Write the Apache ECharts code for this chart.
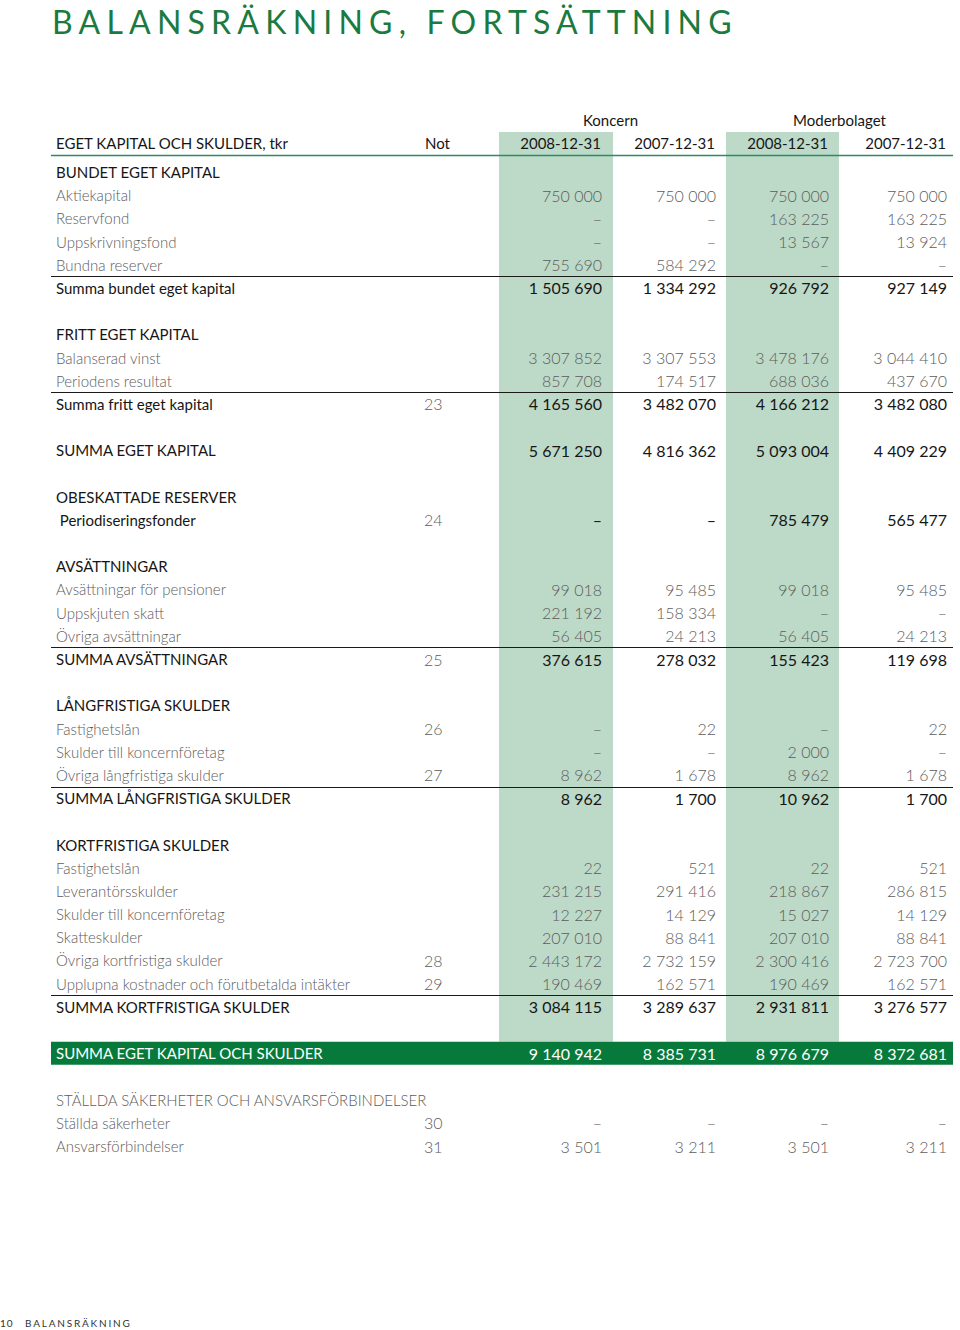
<!DOCTYPE html>
<html><head><meta charset="utf-8">
<script src="https://cdn.jsdelivr.net/npm/echarts@6/dist/echarts.min.js"></script>
<style>html,body{margin:0;padding:0;background:#fff}#c{width:960px;height:1330px}</style>
</head><body><div id="c"></div>
<script>
// ---------- DATA ----------
const pageTitle = 'BALANSRÄKNING, FORTSÄTTNING';
const footerPage = '10';
const footerText = 'BALANSRÄKNING';
const tableHeading = 'EGET KAPITAL OCH SKULDER, tkr';
const noteHeading = 'Not';
const groupHeadings = ['Koncern', 'Moderbolaget'];
const dateHeadings = ['2008-12-31', '2007-12-31', '2008-12-31', '2007-12-31'];

const rowLabels = [
  'BUNDET EGET KAPITAL', 'Aktiekapital', 'Reservfond', 'Uppskrivningsfond', 'Bundna reserver',
  'Summa bundet eget kapital', '',
  'FRITT EGET KAPITAL', 'Balanserad vinst', 'Periodens resultat', 'Summa fritt eget kapital', '',
  'SUMMA EGET KAPITAL', '',
  'OBESKATTADE RESERVER', ' Periodiseringsfonder', '',
  'AVSÄTTNINGAR', 'Avsättningar för pensioner', 'Uppskjuten skatt', 'Övriga avsättningar',
  'SUMMA AVSÄTTNINGAR', '',
  'LÅNGFRISTIGA SKULDER', 'Fastighetslån', 'Skulder till koncernföretag', 'Övriga långfristiga skulder',
  'SUMMA LÅNGFRISTIGA SKULDER', '',
  'KORTFRISTIGA SKULDER', 'Fastighetslån', 'Leverantörsskulder', 'Skulder till koncernföretag',
  'Skatteskulder', 'Övriga kortfristiga skulder', 'Upplupna kostnader och förutbetalda intäkter',
  'SUMMA KORTFRISTIGA SKULDER', '',
  'SUMMA EGET KAPITAL OCH SKULDER', '',
  'STÄLLDA SÄKERHETER OCH ANSVARSFÖRBINDELSER', 'Ställda säkerheter', 'Ansvarsförbindelser'
];
// row kinds: section, item, sum (ruled), plain (dark, no rule), total, blank, gsection
const rowKinds = [
  'section', 'item', 'item', 'item', 'item', 'sum', 'blank',
  'section', 'item', 'item', 'sum', 'blank',
  'plain', 'blank',
  'section', 'plain', 'blank',
  'section', 'item', 'item', 'item', 'sum', 'blank',
  'section', 'item', 'item', 'item', 'sum', 'blank',
  'section', 'item', 'item', 'item', 'item', 'item', 'item', 'sum', 'blank',
  'total', 'blank',
  'gsection', 'item', 'item'
];
const notes = [
  '', '', '', '', '', '', '',
  '', '', '', '23', '',
  '', '',
  '', '24', '',
  '', '', '', '', '25', '',
  '', '26', '', '27', '', '',
  '', '', '', '', '', '28', '29', '', '',
  '', '',
  '', '30', '31'
];
// null = "–"
const koncern2008 = [
  null, 750000, null, null, 755690, 1505690, null,
  null, 3307852, 857708, 4165560, null,
  5671250, null,
  null, null, null,
  null, 99018, 221192, 56405, 376615, null,
  null, null, null, 8962, 8962, null,
  null, 22, 231215, 12227, 207010, 2443172, 190469, 3084115, null,
  9140942, null,
  null, null, 3501
];
const koncern2007 = [
  null, 750000, null, null, 584292, 1334292, null,
  null, 3307553, 174517, 3482070, null,
  4816362, null,
  null, null, null,
  null, 95485, 158334, 24213, 278032, null,
  null, 22, null, 1678, 1700, null,
  null, 521, 291416, 14129, 88841, 2732159, 162571, 3289637, null,
  8385731, null,
  null, null, 3211
];
const moder2008 = [
  null, 750000, 163225, 13567, null, 926792, null,
  null, 3478176, 688036, 4166212, null,
  5093004, null,
  null, 785479, null,
  null, 99018, null, 56405, 155423, null,
  null, null, 2000, 8962, 10962, null,
  null, 22, 218867, 15027, 207010, 2300416, 190469, 2931811, null,
  8976679, null,
  null, null, 3501
];
const moder2007 = [
  null, 750000, 163225, 13924, null, 927149, null,
  null, 3044410, 437670, 3482080, null,
  4409229, null,
  null, 565477, null,
  null, 95485, null, 24213, 119698, null,
  null, 22, null, 1678, 1700, null,
  null, 521, 286815, 14129, 88841, 2723700, 162571, 3276577, null,
  8372681, null,
  null, null, 3211
];
const valueColumns = [koncern2008, koncern2007, moder2008, moder2007];

// ---------- LAYOUT / STYLE ----------
const L = {
  ruleL: 51, ruleR: 953, labelX: 56, noteX: 424,
  valueRight: [602, 716, 829, 947],
  shade: [[499, 613], [726, 839]],
  shadeAbove: 28.4,
  gridTop: 160.4, gridHeight: 997.2
};
const C = {
  green: '#1b7a40', total: '#077a3b', shade: '#bdd9c7', headRule: '#2f8a5f',
  dark: '#161616', gray: '#5c5c5c'
};
const FONT = 'Lato';
const KS = {
  item:     {lc: C.gray, lw: 300, vc: C.gray, vw: 300},
  gsection: {lc: C.gray, lw: 300, vc: C.gray, vw: 300},
  section:  {lc: C.dark, lw: 400, vc: C.dark, vw: 400},
  sum:      {lc: C.dark, lw: 400, vc: C.dark, vw: 400},
  plain:    {lc: C.dark, lw: 400, vc: C.dark, vw: 400},
  total:    {lc: '#ffffff', lw: 400, vc: '#ffffff', vw: 400}
};
const showValues = {item: true, sum: true, plain: true, total: true};

function fmt(v) {
  if (v === null || v === undefined) return '–';
  return String(v).replace(/\B(?=(\d{3})+(?!\d))/g, ' ');
}

function txt(x, y, text, o) {
  return {
    type: 'text', x: x, y: y,
    style: {
      text: text, fill: o.fill, fontFamily: FONT, fontSize: o.size, fontWeight: o.weight,
      align: o.align || 'left', verticalAlign: 'middle'
    }
  };
}

function renderRow(params, api) {
  const i = api.value(1);
  const kind = rowKinds[i];
  const yc = api.coord([0, i])[1];
  const band = api.size([0, 1])[1];
  const top = yc - band / 2;
  const X = v => api.coord([v, i])[0];
  const children = [];
  if (kind === 'blank') return {type: 'group', children: children};
  const s = KS[kind];
  if (kind === 'total') {
    children.push({type: 'rect', shape: {x: X(L.ruleL), y: top, width: X(L.ruleR) - X(L.ruleL), height: band},
      style: {fill: C.total}});
  }
  if (kind === 'sum') {
    const ly = Math.round(top) + 0.5;
    children.push({type: 'line', shape: {x1: X(L.ruleL), y1: ly, x2: X(L.ruleR), y2: ly},
      style: {stroke: '#1a1a1a', lineWidth: 1}});
  }
  children.push(txt(X(L.labelX), yc, rowLabels[i], {fill: s.lc, size: 15, weight: s.lw}));
  if (notes[i]) children.push(txt(X(L.noteX), yc, notes[i], {fill: C.gray, size: 16, weight: 300}));
  if (showValues[kind]) {
    valueColumns.forEach((arr, k) => {
      children.push(txt(X(L.valueRight[k]), yc, fmt(arr[i]), {fill: s.vc, size: 16, weight: s.vw, align: 'right'}));
    });
  }
  return {type: 'group', children: children};
}

function renderShade(params, api) {
  const k = params.dataIndex;
  const band = api.size([0, 1])[1];
  const y0 = api.coord([0, 0])[1] - band / 2 - L.shadeAbove;
  const y1 = api.coord([0, 38])[1] - band / 2;
  const x0 = api.coord([L.shade[k][0], 0])[0];
  const x1 = api.coord([L.shade[k][1], 0])[0];
  return {type: 'rect', shape: {x: x0, y: y0, width: x1 - x0, height: y1 - y0}, style: {fill: C.shade}};
}

const chart = echarts.init(document.getElementById('c'), null, {renderer: 'svg'});
const rowIdx = rowLabels.map((_, i) => i);

const headY = 143, groupY = 120;
const graphics = [
  {type: 'text', id: 'title', x: 52, y: 21, style: {text: pageTitle, fill: C.green, fontFamily: FONT,
    fontSize: 32, fontWeight: 400, verticalAlign: 'middle'}},
  {type: 'text', x: L.labelX, y: headY, style: {text: tableHeading, fill: C.dark, fontFamily: FONT, fontSize: 15, verticalAlign: 'middle'}},
  {type: 'text', x: 425, y: headY, style: {text: noteHeading, fill: C.dark, fontFamily: FONT, fontSize: 15, verticalAlign: 'middle'}},
  {type: 'text', x: (L.shade[0][0] + L.valueRight[1]) / 2 + 3, y: groupY, style: {text: groupHeadings[0], fill: C.dark, fontFamily: FONT, fontSize: 15, align: 'center', verticalAlign: 'middle'}},
  {type: 'text', x: (L.shade[1][0] + L.valueRight[3]) / 2 + 3, y: groupY, style: {text: groupHeadings[1], fill: C.dark, fontFamily: FONT, fontSize: 15, align: 'center', verticalAlign: 'middle'}},
  {type: 'line', shape: {x1: L.ruleL, y1: 155.5, x2: L.ruleR, y2: 155.5}, style: {stroke: C.headRule, lineWidth: 1.5}},
  {type: 'text', x: 0, y: 1323, style: {text: footerPage, fill: '#333', fontFamily: FONT, fontSize: 10, verticalAlign: 'middle'}},
  {type: 'text', id: 'foot', x: 25, y: 1323, style: {text: footerText, fill: '#333', fontFamily: FONT, fontSize: 10, verticalAlign: 'middle'}}
];
dateHeadings.forEach((d, k) => {
  graphics.push({type: 'text', x: L.valueRight[k] - 1, y: headY, style: {text: d, fill: C.dark, fontFamily: FONT, fontSize: 15, align: 'right', verticalAlign: 'middle'}});
});
graphics.forEach(g => { g.z = 100; });

chart.setOption({
  animation: false,
  backgroundColor: '#ffffff',
  grid: {left: 0, right: 0, top: L.gridTop, height: L.gridHeight, containLabel: false},
  xAxis: {type: 'value', min: 0, max: 960, show: false},
  yAxis: {type: 'category', data: rowIdx, inverse: true, show: false},
  graphic: {elements: graphics},
  series: [
    {type: 'custom', z: 1, silent: true, renderItem: renderShade, data: [[0, 0], [0, 0]], encode: {x: 0, y: 1}},
    {type: 'custom', z: 2, silent: true, renderItem: renderRow, data: rowIdx.map(i => [0, i]), encode: {x: 0, y: 1}}
  ]
});

function applySpacing() {
  document.querySelectorAll('#c text').forEach(t => {
    const s = t.textContent;
    if (s === pageTitle) t.setAttribute('letter-spacing', '6.2');
    else if (s === footerText) t.setAttribute('letter-spacing', '1.8');
    else if (s === footerPage) t.setAttribute('letter-spacing', '1');
  });
}
applySpacing();
chart.on('finished', applySpacing);
</script></body></html>
